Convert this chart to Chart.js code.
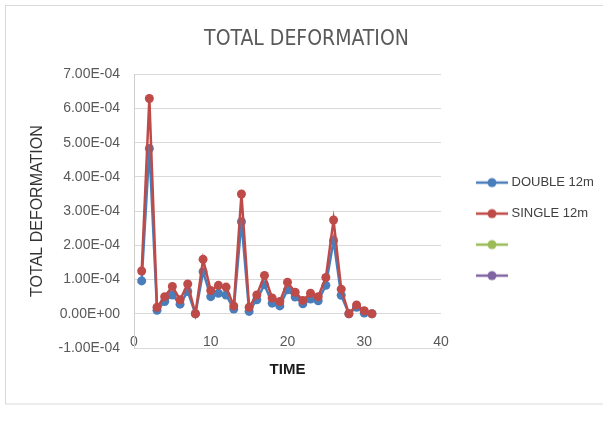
<!DOCTYPE html>
<html>
<head>
<meta charset="utf-8">
<script src="https://cdn.jsdelivr.net/npm/chart.js@4"></script>
<style>
  html, body { margin: 0; padding: 0; background: #fff; }
  #wrap { width: 603px; height: 427px; }
</style>
</head>
<body>
<div id="wrap"><canvas id="chart" width="603" height="427"></canvas></div>
<script>
// data
const time = [1, 2, 3, 4, 5, 6, 7, 8, 9, 10, 11, 12, 13, 14, 15, 16, 17, 18, 19, 20,
  21, 22, 23, 24, 25, 26, 27, 28, 29, 30, 31];
const double12 = [0.96e-4, 4.83e-4, 0.10e-4, 0.36e-4, 0.55e-4, 0.28e-4, 0.65e-4, 0.0, 1.23e-4, 0.50e-4,
  0.60e-4, 0.55e-4, 0.14e-4, 2.69e-4, 0.07e-4, 0.41e-4, 0.85e-4, 0.31e-4, 0.23e-4, 0.70e-4,
  0.49e-4, 0.29e-4, 0.43e-4, 0.38e-4, 0.83e-4, 2.14e-4, 0.54e-4, 0.0, 0.19e-4, 0.02e-4, 0.0];
const single12 = [1.25e-4, 6.29e-4, 0.19e-4, 0.50e-4, 0.80e-4, 0.41e-4, 0.87e-4, 0.0, 1.59e-4, 0.68e-4,
  0.83e-4, 0.78e-4, 0.23e-4, 3.50e-4, 0.19e-4, 0.55e-4, 1.12e-4, 0.46e-4, 0.36e-4, 0.92e-4,
  0.63e-4, 0.39e-4, 0.60e-4, 0.50e-4, 1.06e-4, 2.74e-4, 0.72e-4, 0.0, 0.26e-4, 0.09e-4, 0.0];
const seriesNames = ['DOUBLE 12m', 'SINGLE 12m', '', ''];
const xTicks = [0, 10, 20, 30, 40];
const yTicks = [-1e-4, 0, 1e-4, 2e-4, 3e-4, 4e-4, 5e-4, 6e-4, 7e-4];

const colors = ['#4A7EBB', '#BE4B48', '#9BBB59', '#8064A2'];

function sci(v) {
  const parts = v.toExponential(2).split('e');
  const n = parseInt(parts[1], 10);
  return parts[0] + 'E' + (n < 0 ? '-' : '+') + String(Math.abs(n)).padStart(2, '0');
}

function pairs(ys) {
  return ys.map((y, i) => ({ x: time[i], y: y }));
}

// legend marker: short line with a dot, like the spreadsheet one
function legendIcon(color) {
  const c = document.createElement('canvas');
  c.width = 52;
  c.height = 12;
  const g = c.getContext('2d');
  g.strokeStyle = color;
  g.lineWidth = 2.5;
  g.beginPath();
  g.moveTo(20, 6);
  g.lineTo(52, 6);
  g.stroke();
  g.fillStyle = color;
  g.beginPath();
  g.arc(36, 6, 4.5, 0, Math.PI * 2);
  g.fill();
  return c;
}

const frame = {
  id: 'frame',
  beforeDraw(chart) {
    const ctx = chart.ctx;
    ctx.save();
    ctx.fillStyle = '#fff';
    ctx.fillRect(0, 0, chart.width, chart.height);
    ctx.strokeStyle = '#d9d9d9';
    ctx.lineWidth = 1;
    ctx.strokeRect(5.5, 5.5, 640, 398.5);
    ctx.restore();
  }
};

function makeSet(i, ys) {
  return {
    label: seriesNames[i],
    data: pairs(ys),
    showLine: true,
    borderColor: colors[i],
    backgroundColor: colors[i],
    pointBackgroundColor: colors[i],
    pointBorderColor: colors[i],
    borderWidth: 2.5,
    pointRadius: 4.5,
    pointBorderWidth: 0,
    tension: 0,
    order: 4 - i
  };
}

new Chart(document.getElementById('chart').getContext('2d'), {
  type: 'scatter',
  data: {
    datasets: [
      makeSet(0, double12),
      makeSet(1, single12),
      makeSet(2, []),
      makeSet(3, [])
    ]
  },
  options: {
    responsive: false,
    animation: false,
    layout: { padding: { left: 10, right: 0, top: 10, bottom: 20 } },
    scales: {
      x: {
        type: 'linear',
        min: 0,
        max: 40,
        afterBuildTicks: s => { s.ticks = xTicks.map(v => ({ value: v })); },
        afterFit: s => { s.height = 59; },
        grid: { display: false, drawTicks: false },
        border: { display: true, color: '#d9d9d9', width: 1 },
        ticks: {
          mirror: true,
          padding: -3,
          color: '#595959',
          font: { family: 'Liberation Sans', size: 14 }
        },
        title: {
          display: true,
          text: 'TIME',
          color: '#1a1a1a',
          font: { family: 'Liberation Sans', size: 15, weight: 'bold' },
          padding: { top: 4, bottom: 28 }
        }
      },
      y: {
        type: 'linear',
        min: -1e-4,
        max: 7e-4,
        afterBuildTicks: s => { s.ticks = yTicks.map(v => ({ value: v })); },
        afterFit: s => { s.width = 124; },
        grid: { color: '#d9d9d9', drawTicks: false },
        border: { display: true, color: '#cfcfcf', width: 1 },
        ticks: {
          padding: 14,
          color: '#595959',
          font: { family: 'Liberation Sans', size: 14 },
          callback: v => sci(v)
        },
        title: {
          display: true,
          text: 'TOTAL DEFORMATION',
          color: '#333',
          font: { family: 'Liberation Sans', size: 16 },
          padding: { top: 18, bottom: 0 }
        }
      }
    },
    plugins: {
      title: {
        display: true,
        text: 'TOTAL DEFORMATION',
        color: '#595959',
        font: { family: "'DejaVu Sans Condensed', 'Liberation Sans'", size: 21, weight: 'normal' },
        padding: { top: 17, bottom: 22 }
      },
      legend: {
        position: 'right',
        fullSize: false,
        maxWidth: 162,
        title: { display: true, text: ' ', font: { size: 10 }, padding: { top: 24, bottom: 0 } },
        labels: {
          usePointStyle: true,
          pointStyleWidth: 46,
          padding: 18,
          color: '#404040',
          font: { family: 'Liberation Sans', size: 13 },
          generateLabels: chart => {
            const items = Chart.defaults.plugins.legend.labels.generateLabels(chart);
            items.forEach(it => { it.pointStyle = legendIcon(colors[it.datasetIndex]); });
            return items;
          },
          sort: (a, b) => a.datasetIndex - b.datasetIndex
        }
      },
      tooltip: { enabled: false }
    }
  },
  plugins: [frame]
});
</script>
</body>
</html>
